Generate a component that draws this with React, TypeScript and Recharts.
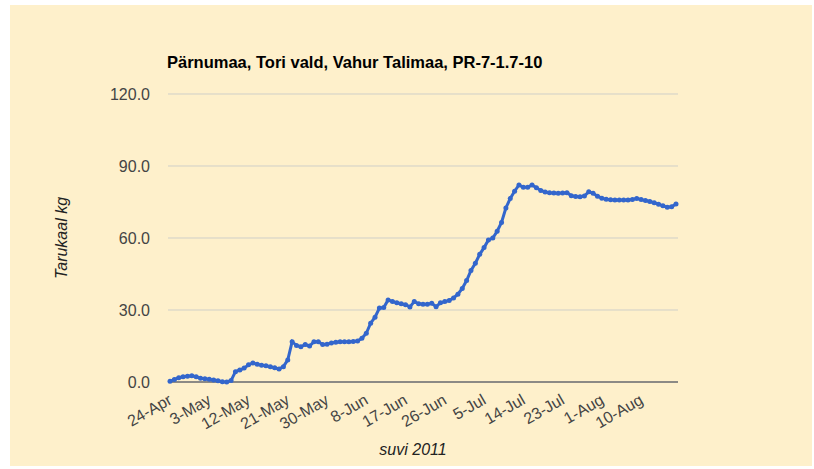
import { LineChart, Line, XAxis, YAxis, CartesianGrid } from 'recharts';

// daily tail weight, 24-Apr .. 18-Aug 2011
const weights = [
  0.3, 1.0, 1.8, 2.2, 2.4, 2.6, 2.2, 1.6, 1.4, 1.1,
  0.8, 0.5, 0.1, 0.0, 0.6, 4.3, 5.0, 5.8, 7.2, 7.9,
  7.4, 7.0, 6.8, 6.4, 5.9, 5.4, 6.4, 9.2, 16.8, 15.2,
  14.7, 15.6, 15.0, 16.8, 16.8, 15.6, 15.7, 16.3, 16.6, 16.8,
  16.8, 16.8, 16.9, 17.1, 18.2, 20.3, 24.5, 27.0, 30.8, 31.0,
  34.2, 33.5, 33.0, 32.6, 32.2, 31.3, 33.5, 32.6, 32.4, 32.4,
  32.8, 31.4, 33.0, 33.5, 34.0, 35.0, 36.6, 39.0, 42.3, 46.5,
  49.5, 53.2, 56.0, 59.2, 60.0, 62.8, 66.5, 72.5, 76.5, 79.5,
  82.1, 81.1, 81.1, 82.1, 80.9, 79.8, 79.2, 78.9, 78.7, 78.6,
  78.8, 78.9, 77.6, 77.3, 77.2, 77.5, 79.3, 78.6, 77.4, 76.6,
  76.1, 75.9, 75.8, 75.8, 75.8, 75.8, 76.0, 76.5, 76.0, 75.6,
  75.2, 74.7, 74.1, 73.4, 72.8, 73.0, 74.2,
];

const months = ['Jan', 'Feb', 'Mar', 'Apr', 'May', 'Jun', 'Jul', 'Aug', 'Sep', 'Oct', 'Nov', 'Dec'];
const dates = weights.map((_, i) => {
  const d = new Date(2011, 3, 24 + i);
  return `${d.getDate()}-${months[d.getMonth()]}`;
});

const xTicks = ['24-Apr', '3-May', '12-May', '21-May', '30-May', '8-Jun', '17-Jun', '26-Jun', '5-Jul', '14-Jul', '23-Jul', '1-Aug', '10-Aug'];
const yTicks = [0, 30, 60, 90, 120];

const data = dates.map((date, i) => ({ date, kg: weights[i] }));

const FONT = '"Liberation Sans", Arial, sans-serif';

const DateTick = (props: any) => {
  const { x, y, payload } = props;
  const px = x + 3;
  const py = y + 13;
  return (
    <text
      x={px}
      y={py}
      transform={`rotate(-30, ${px}, ${py})`}
      textAnchor="end"
      fontSize={16}
      fontFamily={FONT}
      fill="#444"
    >
      {payload.value}
    </text>
  );
};

export default function App() {
  return (
    <div style={{ position: 'absolute', left: 0, top: 0, width: 814, height: 469, fontFamily: FONT }}>
      <div style={{ position: 'absolute', left: 10, top: 5, width: 802, height: 461, background: '#fef0cb' }} />
      <div style={{ position: 'absolute', left: 10, top: 5 }}>
        <LineChart width={802} height={461} data={data} margin={{ top: 89, right: 134, left: 98, bottom: 24 }}>
          <CartesianGrid vertical={false} stroke="#cfcfc8" strokeWidth={1} />
          <XAxis
            dataKey="date"
            ticks={xTicks}
            interval={0}
            tick={<DateTick />}
            tickLine={false}
            axisLine={{ stroke: '#6e6e6e', strokeWidth: 1.5 }}
            padding={{ left: 2, right: 2 }}
            height={60}
          />
          <YAxis
            domain={[0, 120]}
            ticks={yTicks}
            tickFormatter={(v: number) => v.toFixed(1)}
            axisLine={false}
            tickLine={false}
            tickMargin={12}
            width={60}
            tick={{ fontSize: 16, fontFamily: FONT, fill: '#444' }}
          />
          <Line
            type="linear"
            dataKey="kg"
            stroke="#3366cc"
            strokeWidth={3}
            dot={{ r: 2.5, fill: '#3366cc', stroke: 'none' }}
            isAnimationActive={false}
          />
        </LineChart>
      </div>
      <div style={{ position: 'absolute', left: 167, top: 52, fontSize: 16.5, fontWeight: 'bold', lineHeight: '20px', color: '#000', whiteSpace: 'nowrap' }}>
        Pärnumaa, Tori vald, Vahur Talimaa, PR-7-1.7-10
      </div>
      <div
        style={{
          position: 'absolute',
          left: 62,
          top: 238,
          transform: 'translate(-50%, -50%) rotate(-90deg)',
          fontSize: 16,
          fontStyle: 'italic',
          color: '#222',
          whiteSpace: 'nowrap',
        }}
      >
        Tarukaal kg
      </div>
      <div
        style={{
          position: 'absolute',
          left: 413,
          top: 450,
          transform: 'translate(-50%, -50%)',
          fontSize: 16,
          fontStyle: 'italic',
          color: '#222',
          whiteSpace: 'nowrap',
        }}
      >
        suvi 2011
      </div>
    </div>
  );
}
